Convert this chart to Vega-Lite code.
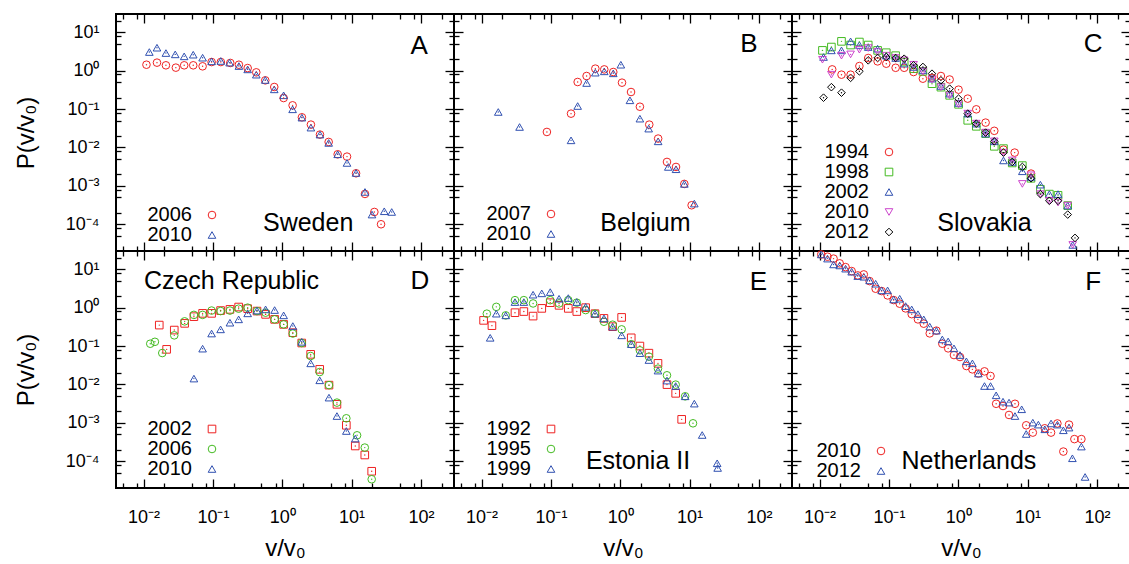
{
"$schema": "https://vega.github.io/schema/vega-lite/v6.json",
"background": "white",
"padding": {"left": 13, "top": 12, "right": 0, "bottom": 0},
"config": {"font": "Liberation Sans", "view": {"stroke": "black", "strokeWidth": 2}, "axis": {"labelColor": "black", "titleColor": "black", "tickColor": "black"}, "legend": {"labelColor": "black"}, "text": {"color": "black"}},
"datasets": {
"A": [
{"x":0.0110,"y":1.43,"s":"2006"},{"x":0.0156,"y":1.62,"s":"2006"},{"x":0.0210,"y":1.38,"s":"2006"},{"x":0.0292,"y":1.20,"s":"2006"},{"x":0.0385,"y":1.38,"s":"2006"},{"x":0.0520,"y":1.38,"s":"2006"},{"x":0.0710,"y":1.30,"s":"2006"},{"x":0.0957,"y":1.68,"s":"2006"},{"x":0.130,"y":1.68,"s":"2006"},{"x":0.178,"y":1.59,"s":"2006"},{"x":0.237,"y":1.43,"s":"2006"},{"x":0.317,"y":1.17,"s":"2006"},{"x":0.422,"y":0.905,"s":"2006"},{"x":0.569,"y":0.560,"s":"2006"},{"x":0.767,"y":0.376,"s":"2006"},{"x":1.047,"y":0.194,"s":"2006"},{"x":1.41,"y":0.125,"s":"2006"},{"x":1.92,"y":0.0609,"s":"2006"},{"x":2.59,"y":0.0393,"s":"2006"},{"x":3.50,"y":0.0216,"s":"2006"},{"x":4.67,"y":0.0139,"s":"2006"},{"x":6.30,"y":0.00662,"s":"2006"},{"x":8.59,"y":0.00576,"s":"2006"},{"x":11.6,"y":0.00212,"s":"2006"},{"x":15.6,"y":0.000614,"s":"2006"},{"x":21.3,"y":0.000208,"s":"2006"},{"x":26.6,"y":0.0000995,"s":"2006"},
{"x":0.0121,"y":3.06,"s":"2010"},{"x":0.0156,"y":3.97,"s":"2010"},{"x":0.0210,"y":2.88,"s":"2010"},{"x":0.0286,"y":2.66,"s":"2010"},{"x":0.0385,"y":2.36,"s":"2010"},{"x":0.0520,"y":2.61,"s":"2010"},{"x":0.0710,"y":2.18,"s":"2010"},{"x":0.0957,"y":1.75,"s":"2010"},{"x":0.130,"y":1.79,"s":"2010"},{"x":0.174,"y":1.62,"s":"2010"},{"x":0.237,"y":1.32,"s":"2010"},{"x":0.317,"y":1.08,"s":"2010"},{"x":0.422,"y":0.787,"s":"2010"},{"x":0.569,"y":0.572,"s":"2010"},{"x":0.767,"y":0.326,"s":"2010"},{"x":1.047,"y":0.228,"s":"2010"},{"x":1.41,"y":0.0984,"s":"2010"},{"x":1.92,"y":0.0597,"s":"2010"},{"x":2.59,"y":0.0328,"s":"2010"},{"x":3.50,"y":0.0216,"s":"2010"},{"x":4.67,"y":0.0131,"s":"2010"},{"x":6.30,"y":0.00662,"s":"2010"},{"x":8.59,"y":0.00394,"s":"2010"},{"x":11.6,"y":0.00216,"s":"2010"},{"x":15.6,"y":0.000692,"s":"2010"},{"x":19.7,"y":0.000178,"s":"2010"},{"x":29.6,"y":0.000217,"s":"2010"},{"x":37.9,"y":0.000208,"s":"2010"}
],
"B": [
{"x":0.0875,"y":0.0253,"s":"2007"},{"x":0.195,"y":0.0759,"s":"2007"},{"x":0.243,"y":0.507,"s":"2007"},{"x":0.327,"y":0.726,"s":"2007"},{"x":0.437,"y":1.13,"s":"2007"},{"x":0.588,"y":1.08,"s":"2007"},{"x":0.793,"y":0.923,"s":"2007"},{"x":1.06,"y":0.487,"s":"2007"},{"x":1.43,"y":0.278,"s":"2007"},{"x":1.92,"y":0.115,"s":"2007"},{"x":2.62,"y":0.0393,"s":"2007"},{"x":3.52,"y":0.0170,"s":"2007"},{"x":4.72,"y":0.00419,"s":"2007"},{"x":6.37,"y":0.00310,"s":"2007"},{"x":8.40,"y":0.00112,"s":"2007"},{"x":10.7,"y":0.000311,"s":"2007"},
{"x":0.0174,"y":0.0839,"s":"2010"},{"x":0.0353,"y":0.0341,"s":"2010"},{"x":0.195,"y":0.0153,"s":"2010"},{"x":0.243,"y":0.120,"s":"2010"},{"x":0.327,"y":0.477,"s":"2010"},{"x":0.437,"y":0.887,"s":"2010"},{"x":0.588,"y":0.961,"s":"2010"},{"x":0.793,"y":0.853,"s":"2010"},{"x":1.02,"y":1.43,"s":"2010"},{"x":1.38,"y":0.169,"s":"2010"},{"x":1.92,"y":0.0562,"s":"2010"},{"x":2.57,"y":0.0309,"s":"2010"},{"x":3.52,"y":0.0144,"s":"2010"},{"x":4.93,"y":0.00310,"s":"2010"},{"x":6.37,"y":0.00270,"s":"2010"},{"x":8.40,"y":0.00112,"s":"2010"},{"x":11.7,"y":0.000344,"s":"2010"}
],
"C": [
{"x":0.0152,"y":1.08,"s":"1994"},{"x":0.0207,"y":0.787,"s":"1994"},{"x":0.0280,"y":0.787,"s":"1994"},{"x":0.0375,"y":1.32,"s":"1994"},{"x":0.0503,"y":2.14,"s":"1994"},{"x":0.0687,"y":1.75,"s":"1994"},{"x":0.0916,"y":1.52,"s":"1994"},{"x":0.125,"y":1.19,"s":"1994"},{"x":0.166,"y":1.19,"s":"1994"},{"x":0.227,"y":0.923,"s":"1994"},{"x":0.309,"y":0.619,"s":"1994"},{"x":0.418,"y":0.650,"s":"1994"},{"x":0.562,"y":0.726,"s":"1994"},{"x":0.751,"y":0.589,"s":"1994"},{"x":1.01,"y":0.320,"s":"1994"},{"x":1.37,"y":0.187,"s":"1994"},{"x":1.82,"y":0.0984,"s":"1994"},{"x":2.48,"y":0.0443,"s":"1994"},{"x":3.31,"y":0.0271,"s":"1994"},{"x":4.49,"y":0.00877,"s":"1994"},{"x":6.51,"y":0.00733,"s":"1994"},{"x":11.2,"y":0.00208,"s":"1994"},
{"x":0.0110,"y":3.38,"s":"1998"},{"x":0.0148,"y":4.13,"s":"1998"},{"x":0.0207,"y":5.81,"s":"1998"},{"x":0.0280,"y":4.66,"s":"1998"},{"x":0.0375,"y":5.58,"s":"1998"},{"x":0.0503,"y":4.66,"s":"1998"},{"x":0.0687,"y":3.38,"s":"1998"},{"x":0.0916,"y":2.94,"s":"1998"},{"x":0.125,"y":2.46,"s":"1998"},{"x":0.166,"y":1.68,"s":"1998"},{"x":0.227,"y":1.13,"s":"1998"},{"x":0.309,"y":0.961,"s":"1998"},{"x":0.418,"y":0.458,"s":"1998"},{"x":0.562,"y":0.372,"s":"1998"},{"x":0.751,"y":0.228,"s":"1998"},{"x":1.01,"y":0.133,"s":"1998"},{"x":1.37,"y":0.0509,"s":"1998"},{"x":1.82,"y":0.0355,"s":"1998"},{"x":2.48,"y":0.0229,"s":"1998"},{"x":3.31,"y":0.0107,"s":"1998"},{"x":4.49,"y":0.00931,"s":"1998"},{"x":6.01,"y":0.00394,"s":"1998"},{"x":8.40,"y":0.00336,"s":"1998"},{"x":11.2,"y":0.00157,"s":"1998"},{"x":15.3,"y":0.000813,"s":"1998"},{"x":20.6,"y":0.000608,"s":"1998"},{"x":27.5,"y":0.000566,"s":"1998"},{"x":37.9,"y":0.000305,"s":"1998"},
{"x":0.0114,"y":2.27,"s":"2002"},{"x":0.0148,"y":3.38,"s":"2002"},{"x":0.0207,"y":3.38,"s":"2002"},{"x":0.0280,"y":5.81,"s":"2002"},{"x":0.0375,"y":4.66,"s":"2002"},{"x":0.0503,"y":4.13,"s":"2002"},{"x":0.0687,"y":3.74,"s":"2002"},{"x":0.0916,"y":2.46,"s":"2002"},{"x":0.125,"y":2.14,"s":"2002"},{"x":0.166,"y":1.52,"s":"2002"},{"x":0.227,"y":1.25,"s":"2002"},{"x":0.309,"y":1.02,"s":"2002"},{"x":0.418,"y":0.619,"s":"2002"},{"x":0.562,"y":0.399,"s":"2002"},{"x":0.751,"y":0.252,"s":"2002"},{"x":1.01,"y":0.144,"s":"2002"},{"x":1.37,"y":0.0759,"s":"2002"},{"x":1.82,"y":0.0417,"s":"2002"},{"x":2.48,"y":0.0229,"s":"2002"},{"x":3.31,"y":0.0144,"s":"2002"},{"x":4.49,"y":0.00458,"s":"2002"},{"x":6.01,"y":0.00419,"s":"2002"},{"x":8.40,"y":0.00239,"s":"2002"},{"x":11.2,"y":0.00170,"s":"2002"},{"x":15.3,"y":0.00107,"s":"2002"},{"x":20.6,"y":0.000608,"s":"2002"},{"x":27.5,"y":0.000608,"s":"2002"},{"x":37.9,"y":0.000305,"s":"2002"},{"x":44.8,"y":0.0000288,"s":"2002"},
{"x":0.0110,"y":1.93,"s":"2010"},{"x":0.0148,"y":0.787,"s":"2010"},{"x":0.0207,"y":2.46,"s":"2010"},{"x":0.0280,"y":2.66,"s":"2010"},{"x":0.0375,"y":3.52,"s":"2010"},{"x":0.0503,"y":3.89,"s":"2010"},{"x":0.0687,"y":3.06,"s":"2010"},{"x":0.0916,"y":2.46,"s":"2010"},{"x":0.125,"y":2.14,"s":"2010"},{"x":0.166,"y":1.86,"s":"2010"},{"x":0.227,"y":1.43,"s":"2010"},{"x":0.309,"y":0.961,"s":"2010"},{"x":0.418,"y":0.589,"s":"2010"},{"x":0.562,"y":0.372,"s":"2010"},{"x":0.751,"y":0.228,"s":"2010"},{"x":1.01,"y":0.133,"s":"2010"},{"x":1.37,"y":0.0759,"s":"2010"},{"x":1.82,"y":0.0417,"s":"2010"},{"x":2.48,"y":0.0243,"s":"2010"},{"x":3.31,"y":0.0144,"s":"2010"},{"x":4.49,"y":0.00733,"s":"2010"},{"x":6.01,"y":0.00458,"s":"2010"},{"x":8.40,"y":0.00112,"s":"2010"},{"x":11.2,"y":0.00188,"s":"2010"},{"x":15.3,"y":0.000608,"s":"2010"},{"x":20.6,"y":0.000407,"s":"2010"},{"x":27.5,"y":0.000365,"s":"2010"},{"x":37.9,"y":0.000305,"s":"2010"},{"x":44.8,"y":0.0000288,"s":"2010"},
{"x":0.0114,"y":0.198,"s":"2012"},{"x":0.0148,"y":0.372,"s":"2012"},{"x":0.0207,"y":0.267,"s":"2012"},{"x":0.0280,"y":0.650,"s":"2012"},{"x":0.0375,"y":0.961,"s":"2012"},{"x":0.0503,"y":1.86,"s":"2012"},{"x":0.0687,"y":2.14,"s":"2012"},{"x":0.0916,"y":2.27,"s":"2012"},{"x":0.125,"y":2.14,"s":"2012"},{"x":0.166,"y":2.05,"s":"2012"},{"x":0.227,"y":1.38,"s":"2012"},{"x":0.309,"y":1.25,"s":"2012"},{"x":0.418,"y":0.835,"s":"2012"},{"x":0.562,"y":0.560,"s":"2012"},{"x":0.751,"y":0.340,"s":"2012"},{"x":1.01,"y":0.187,"s":"2012"},{"x":1.37,"y":0.0759,"s":"2012"},{"x":1.82,"y":0.0417,"s":"2012"},{"x":2.48,"y":0.0243,"s":"2012"},{"x":3.31,"y":0.0144,"s":"2012"},{"x":4.49,"y":0.00733,"s":"2012"},{"x":6.01,"y":0.00419,"s":"2012"},{"x":8.40,"y":0.00310,"s":"2012"},{"x":11.2,"y":0.00157,"s":"2012"},{"x":15.3,"y":0.000608,"s":"2012"},{"x":20.6,"y":0.000407,"s":"2012"},{"x":27.5,"y":0.000407,"s":"2012"},{"x":37.9,"y":0.000178,"s":"2012"},{"x":48.3,"y":0.0000439,"s":"2012"}
],
"D": [
{"x":0.01683,"y":0.352,"s":"2002"},{"x":0.0215,"y":0.0820,"s":"2002"},{"x":0.0277,"y":0.261,"s":"2002"},{"x":0.0391,"y":0.390,"s":"2002"},{"x":0.0532,"y":0.583,"s":"2002"},{"x":0.0710,"y":0.711,"s":"2002"},{"x":0.0957,"y":0.711,"s":"2002"},{"x":0.129,"y":0.841,"s":"2002"},{"x":0.176,"y":0.903,"s":"2002"},{"x":0.235,"y":1.04,"s":"2002"},{"x":0.317,"y":0.942,"s":"2002"},{"x":0.432,"y":0.816,"s":"2002"},{"x":0.575,"y":0.669,"s":"2002"},{"x":0.776,"y":0.496,"s":"2002"},{"x":1.047,"y":0.367,"s":"2002"},{"x":1.42,"y":0.223,"s":"2002"},{"x":1.91,"y":0.120,"s":"2002"},{"x":2.57,"y":0.0608,"s":"2002"},{"x":3.47,"y":0.0247,"s":"2002"},{"x":4.72,"y":0.00959,"s":"2002"},{"x":6.15,"y":0.00303,"s":"2002"},{"x":8.40,"y":0.000861,"s":"2002"},{"x":11.3,"y":0.000249,"s":"2002"},{"x":15.5,"y":0.000145,"s":"2002"},{"x":19.5,"y":0.0000546,"s":"2002"},
{"x":0.01248,"y":0.115,"s":"2006"},{"x":0.01456,"y":0.129,"s":"2006"},{"x":0.0186,"y":0.0658,"s":"2006"},{"x":0.0277,"y":0.190,"s":"2006"},{"x":0.0391,"y":0.440,"s":"2006"},{"x":0.0532,"y":0.649,"s":"2006"},{"x":0.0710,"y":0.649,"s":"2006"},{"x":0.0957,"y":0.841,"s":"2006"},{"x":0.129,"y":0.816,"s":"2006"},{"x":0.176,"y":0.841,"s":"2006"},{"x":0.235,"y":0.942,"s":"2006"},{"x":0.317,"y":1.00,"s":"2006"},{"x":0.432,"y":0.816,"s":"2006"},{"x":0.575,"y":0.741,"s":"2006"},{"x":0.776,"y":0.496,"s":"2006"},{"x":1.047,"y":0.367,"s":"2006"},{"x":1.42,"y":0.212,"s":"2006"},{"x":1.91,"y":0.120,"s":"2006"},{"x":2.57,"y":0.0550,"s":"2006"},{"x":3.47,"y":0.0210,"s":"2006"},{"x":4.72,"y":0.00959,"s":"2006"},{"x":6.15,"y":0.00336,"s":"2006"},{"x":8.40,"y":0.00131,"s":"2006"},{"x":12.0,"y":0.000472,"s":"2006"},{"x":15.5,"y":0.000226,"s":"2006"},{"x":19.5,"y":0.0000338,"s":"2006"},
{"x":0.0532,"y":0.0142,"s":"2010"},{"x":0.0710,"y":0.0855,"s":"2010"},{"x":0.0957,"y":0.212,"s":"2010"},{"x":0.129,"y":0.272,"s":"2010"},{"x":0.176,"y":0.406,"s":"2010"},{"x":0.235,"y":0.496,"s":"2010"},{"x":0.317,"y":0.711,"s":"2010"},{"x":0.432,"y":0.841,"s":"2010"},{"x":0.575,"y":0.903,"s":"2010"},{"x":0.776,"y":0.867,"s":"2010"},{"x":1.047,"y":0.630,"s":"2010"},{"x":1.42,"y":0.332,"s":"2010"},{"x":1.91,"y":0.129,"s":"2010"},{"x":2.57,"y":0.0354,"s":"2010"},{"x":3.47,"y":0.0128,"s":"2010"},{"x":4.72,"y":0.00453,"s":"2010"},{"x":6.15,"y":0.00150,"s":"2010"},{"x":8.40,"y":0.000611,"s":"2010"},{"x":11.3,"y":0.000388,"s":"2010"}
],
"E": [
{"x":0.01069,"y":0.467,"s":"1992"},{"x":0.0141,"y":0.340,"s":"1992"},{"x":0.0303,"y":0.741,"s":"1992"},{"x":0.0407,"y":0.793,"s":"1992"},{"x":0.0553,"y":0.604,"s":"1992"},{"x":0.0738,"y":0.959,"s":"1992"},{"x":0.0977,"y":1.35,"s":"1992"},{"x":0.131,"y":1.15,"s":"1992"},{"x":0.178,"y":0.959,"s":"1992"},{"x":0.236,"y":0.793,"s":"1992"},{"x":0.317,"y":1.0,"s":"1992"},{"x":0.432,"y":0.698,"s":"1992"},{"x":0.582,"y":0.526,"s":"1992"},{"x":0.776,"y":0.320,"s":"1992"},{"x":1.047,"y":0.558,"s":"1992"},{"x":1.44,"y":0.164,"s":"1992"},{"x":1.92,"y":0.100,"s":"1992"},{"x":2.59,"y":0.0653,"s":"1992"},{"x":3.50,"y":0.0354,"s":"1992"},{"x":4.72,"y":0.00989,"s":"1992"},{"x":6.30,"y":0.00586,"s":"1992"},{"x":7.69,"y":0.00123,"s":"1992"},
{"x":0.0119,"y":0.698,"s":"1995"},{"x":0.0163,"y":1.05,"s":"1995"},{"x":0.0223,"y":0.630,"s":"1995"},{"x":0.0303,"y":1.57,"s":"1995"},{"x":0.0407,"y":1.57,"s":"1995"},{"x":0.0553,"y":1.29,"s":"1995"},{"x":0.0977,"y":1.57,"s":"1995"},{"x":0.131,"y":1.29,"s":"1995"},{"x":0.178,"y":1.57,"s":"1995"},{"x":0.236,"y":1.35,"s":"1995"},{"x":0.317,"y":0.867,"s":"1995"},{"x":0.432,"y":0.698,"s":"1995"},{"x":0.582,"y":0.431,"s":"1995"},{"x":0.776,"y":0.360,"s":"1995"},{"x":1.047,"y":0.272,"s":"1995"},{"x":1.44,"y":0.112,"s":"1995"},{"x":1.92,"y":0.0773,"s":"1995"},{"x":2.59,"y":0.0530,"s":"1995"},{"x":3.50,"y":0.0258,"s":"1995"},{"x":4.72,"y":0.0173,"s":"1995"},{"x":6.30,"y":0.00989,"s":"1995"},{"x":8.63,"y":0.00490,"s":"1995"},{"x":11.2,"y":0.000970,"s":"1995"},
{"x":0.0133,"y":0.164,"s":"1999"},{"x":0.0163,"y":0.698,"s":"1999"},{"x":0.0223,"y":0.630,"s":"1999"},{"x":0.0303,"y":1.40,"s":"1999"},{"x":0.0407,"y":1.40,"s":"1999"},{"x":0.0553,"y":2.18,"s":"1999"},{"x":0.0738,"y":2.36,"s":"1999"},{"x":0.0977,"y":2.55,"s":"1999"},{"x":0.131,"y":1.71,"s":"1999"},{"x":0.178,"y":1.78,"s":"1999"},{"x":0.236,"y":1.40,"s":"1999"},{"x":0.317,"y":1.05,"s":"1999"},{"x":0.432,"y":0.698,"s":"1999"},{"x":0.582,"y":0.526,"s":"1999"},{"x":0.776,"y":0.320,"s":"1999"},{"x":1.047,"y":0.190,"s":"1999"},{"x":1.44,"y":0.112,"s":"1999"},{"x":1.92,"y":0.0653,"s":"1999"},{"x":2.59,"y":0.0432,"s":"1999"},{"x":3.50,"y":0.0229,"s":"1999"},{"x":4.72,"y":0.0126,"s":"1999"},{"x":6.30,"y":0.00908,"s":"1999"},{"x":8.63,"y":0.00490,"s":"1999"},{"x":11.7,"y":0.00316,"s":"1999"},{"x":15.2,"y":0.000481,"s":"1999"},{"x":25.0,"y":0.0000881,"s":"1999"},{"x":25.4,"y":0.0000665,"s":"1999"}
],
"F": [
{"x":0.01057,"y":24.4,"s":"2010"},{"x":0.0130,"y":21.3,"s":"2010"},{"x":0.0159,"y":19.0,"s":"2010"},{"x":0.0195,"y":14.3,"s":"2010"},{"x":0.0237,"y":11.4,"s":"2010"},{"x":0.0290,"y":8.99,"s":"2010"},{"x":0.0355,"y":6.93,"s":"2010"},{"x":0.0434,"y":7.36,"s":"2010"},{"x":0.0526,"y":4.93,"s":"2010"},{"x":0.0643,"y":3.12,"s":"2010"},{"x":0.0785,"y":2.71,"s":"2010"},{"x":0.0957,"y":2.09,"s":"2010"},{"x":0.117,"y":1.58,"s":"2010"},{"x":0.143,"y":1.27,"s":"2010"},{"x":0.174,"y":0.959,"s":"2010"},{"x":0.213,"y":0.678,"s":"2010"},{"x":0.262,"y":0.496,"s":"2010"},{"x":0.318,"y":0.383,"s":"2010"},{"x":0.388,"y":0.214,"s":"2010"},{"x":0.484,"y":0.252,"s":"2010"},{"x":0.589,"y":0.115,"s":"2010"},{"x":0.715,"y":0.0871,"s":"2010"},{"x":0.867,"y":0.0583,"s":"2010"},{"x":1.06,"y":0.0518,"s":"2010"},{"x":1.31,"y":0.0302,"s":"2010"},{"x":1.60,"y":0.0247,"s":"2010"},{"x":1.95,"y":0.0192,"s":"2010"},{"x":2.39,"y":0.0219,"s":"2010"},{"x":2.92,"y":0.0166,"s":"2010"},{"x":3.52,"y":0.00313,"s":"2010"},{"x":4.42,"y":0.00274,"s":"2010"},{"x":5.40,"y":0.00160,"s":"2010"},{"x":6.58,"y":0.00313,"s":"2010"},{"x":9.55,"y":0.000861,"s":"2010"},{"x":11.9,"y":0.000556,"s":"2010"},{"x":17.7,"y":0.000719,"s":"2010"},{"x":21.8,"y":0.000556,"s":"2010"},{"x":26.9,"y":0.000961,"s":"2010"},{"x":32.8,"y":0.000178,"s":"2010"},{"x":39.6,"y":0.000897,"s":"2010"},{"x":47.3,"y":0.000376,"s":"2010"},{"x":59.7,"y":0.000376,"s":"2010"},
{"x":0.01057,"y":24.4,"s":"2012"},{"x":0.0130,"y":19.0,"s":"2012"},{"x":0.0159,"y":13.4,"s":"2012"},{"x":0.0195,"y":12.6,"s":"2012"},{"x":0.0237,"y":10.4,"s":"2012"},{"x":0.0290,"y":8.65,"s":"2012"},{"x":0.0355,"y":6.66,"s":"2012"},{"x":0.0434,"y":6.40,"s":"2012"},{"x":0.0526,"y":5.14,"s":"2012"},{"x":0.0643,"y":4.21,"s":"2012"},{"x":0.0785,"y":2.82,"s":"2012"},{"x":0.0957,"y":2.82,"s":"2012"},{"x":0.117,"y":1.64,"s":"2012"},{"x":0.143,"y":1.71,"s":"2012"},{"x":0.174,"y":1.10,"s":"2012"},{"x":0.213,"y":0.903,"s":"2012"},{"x":0.262,"y":0.678,"s":"2012"},{"x":0.318,"y":0.496,"s":"2012"},{"x":0.388,"y":0.320,"s":"2012"},{"x":0.484,"y":0.252,"s":"2012"},{"x":0.589,"y":0.149,"s":"2012"},{"x":0.715,"y":0.132,"s":"2012"},{"x":0.867,"y":0.0871,"s":"2012"},{"x":1.06,"y":0.0583,"s":"2012"},{"x":1.31,"y":0.0400,"s":"2012"},{"x":1.60,"y":0.0354,"s":"2012"},{"x":1.95,"y":0.0192,"s":"2012"},{"x":2.39,"y":0.00908,"s":"2012"},{"x":2.92,"y":0.00908,"s":"2012"},{"x":3.52,"y":0.00520,"s":"2012"},{"x":4.42,"y":0.00356,"s":"2012"},{"x":5.40,"y":0.00336,"s":"2012"},{"x":6.58,"y":0.00150,"s":"2012"},{"x":8.22,"y":0.00225,"s":"2012"},{"x":9.55,"y":0.000511,"s":"2012"},{"x":11.9,"y":0.00101,"s":"2012"},{"x":14.3,"y":0.000897,"s":"2012"},{"x":17.7,"y":0.000677,"s":"2012"},{"x":21.8,"y":0.000961,"s":"2012"},{"x":26.9,"y":0.000897,"s":"2012"},{"x":32.8,"y":0.000638,"s":"2012"},{"x":39.6,"y":0.000750,"s":"2012"},{"x":44.3,"y":0.000119,"s":"2012"},{"x":59.7,"y":0.000240,"s":"2012"},{"x":67.5,"y":0.0000388,"s":"2012"}
]
},
"columns": 3,
"spacing": 0,
"bounds": "flush",
"resolve": {"scale": {"color": "independent", "shape": "independent", "fill": "independent"}},
"concat": [
{"width": 338, "height": 237, "data": {"name": "A"},
 "layer": [
  {"mark": {"type": "point", "size": 58, "strokeWidth": 1, "opacity": 1},
   "encoding": {
    "x": {"field": "x", "type": "quantitative", "scale": {"type": "log", "domain": [0.004, 300], "nice": false}, "axis": {"orient": "bottom", "values": [0.005,0.008,0.01,0.02,0.05,0.08,0.1,0.2,0.5,0.8,1,2,5,8,10,20,50,80,100,200], "labels": false, "domain": false, "grid": false, "title": null, "tickColor": "black", "tickWidth": 1.3, "tickSize": {"condition": {"test": "abs(log(datum.value)/LN10 - round(log(datum.value)/LN10)) < 0.01", "value": -9}, "value": -5}}},
    "y": {"field": "y", "type": "quantitative", "scale": {"type": "log", "domain": [0.00002, 30], "nice": false}, "axis": {"orient": "left", "values": [0.00005,0.00008,0.0001,0.0002,0.0005,0.0008,0.001,0.002,0.005,0.008,0.01,0.02,0.05,0.08,0.1,0.2,0.5,0.8,1,2,5,8,10,20], "labels": false, "domain": false, "grid": false, "title": null, "tickColor": "black", "tickWidth": 1.3, "tickSize": {"condition": {"test": "abs(log(datum.value)/LN10 - round(log(datum.value)/LN10)) < 0.01", "value": -9}, "value": -5}}},
    "color": {"field": "s", "type": "nominal", "scale": {"domain": ["2006", "2010"], "range": ["#ee2222", "#3050b0"]}, "legend": {"orient": "none", "legendX": 86, "legendY": 191, "title": null, "padding": 0, "rowPadding": 0, "labelFontSize": 20, "labelAlign": "right", "labelOffset": -30, "labelBaseline": "middle", "symbolSize": 58, "symbolStrokeWidth": 1, "symbolFillColor": "transparent", "labelLimit": 0}},
    "shape": {"field": "s", "type": "nominal", "scale": {"domain": ["2006", "2010"], "range": ["circle", "triangle-up"]}, "legend": {"orient": "none", "legendX": 86, "legendY": 191, "title": null, "padding": 0, "rowPadding": 0, "labelFontSize": 20, "labelAlign": "right", "labelOffset": -30, "labelBaseline": "middle", "symbolSize": 58, "symbolStrokeWidth": 1, "symbolFillColor": "transparent", "labelLimit": 0}}
   }},
  {"mark": {"type": "point", "filled": true, "size": 2, "opacity": 1},
   "encoding": {
    "x": {"field": "x", "type": "quantitative", "scale": {"type": "log", "domain": [0.004, 300], "nice": false}, "axis": {"orient": "top", "values": [0.005,0.008,0.01,0.02,0.05,0.08,0.1,0.2,0.5,0.8,1,2,5,8,10,20,50,80,100,200], "labels": false, "domain": false, "grid": false, "title": null, "tickColor": "black", "tickWidth": 1.3, "tickSize": {"condition": {"test": "abs(log(datum.value)/LN10 - round(log(datum.value)/LN10)) < 0.01", "value": -9}, "value": -5}}},
    "y": {"field": "y", "type": "quantitative", "scale": {"type": "log", "domain": [0.00002, 30], "nice": false}, "axis": {"orient": "right", "values": [0.00005,0.00008,0.0001,0.0002,0.0005,0.0008,0.001,0.002,0.005,0.008,0.01,0.02,0.05,0.08,0.1,0.2,0.5,0.8,1,2,5,8,10,20], "labels": false, "domain": false, "grid": false, "title": null, "tickColor": "black", "tickWidth": 1.3, "tickSize": {"condition": {"test": "abs(log(datum.value)/LN10 - round(log(datum.value)/LN10)) < 0.01", "value": -9}, "value": -5}}},
    "fill": {"field": "s", "type": "nominal", "scale": {"domain": ["2010", "2006"], "range": ["#3050b0", "#ee2222"]}, "legend": null}
   }},
  {"data": {"values": [{"t": "Sweden"}]},
   "mark": {"type": "text", "align": "left", "baseline": "middle", "fontSize": 25},
   "encoding": {
    "x": {"datum": 0.527, "type": "quantitative", "scale": {"type": "log", "domain": [0.004, 300], "nice": false}, "axis": null},
    "y": {"datum": 0.00011, "type": "quantitative", "scale": {"type": "log", "domain": [0.00002, 30], "nice": false}, "axis": {"orient": "left", "values": [0.0001,0.001,0.01,0.1,1,10], "ticks": false, "domain": false, "grid": false, "labelExpr": "'10' + ['⁻⁴','⁻³','⁻²','⁻¹','⁰','¹','²'][round(log(datum.value)/LN10)+4]", "labelFontSize": 18, "labelColor": "black", "labelPadding": 17, "labelFlush": false, "labelOverlap": false, "labelBaseline": "middle", "title": "P(v/v₀)", "titleFontSize": 24, "titleFontWeight": "normal", "titleColor": "black", "titleX": -90, "titleY": 118.5, "titleAngle": 270, "titleBaseline": "middle", "titleAlign": "center"}},
    "text": {"field": "t"}
   }},
  {"data": {"values": [{"t": "A"}]},
   "mark": {"type": "text", "align": "center", "baseline": "middle", "fontSize": 26},
   "encoding": {
    "x": {"datum": 94, "type": "quantitative", "scale": {"type": "log", "domain": [0.004, 300], "nice": false}, "axis": null},
    "y": {"datum": 4.5, "type": "quantitative", "scale": {"type": "log", "domain": [0.00002, 30], "nice": false}, "axis": null},
    "text": {"field": "t"}
   }}
 ],
 "resolve": {"axis": {"x": "independent", "y": "independent"}}
},
{"width": 338, "height": 237, "data": {"name": "B"},
 "layer": [
  {"mark": {"type": "point", "size": 58, "strokeWidth": 1, "opacity": 1},
   "encoding": {
    "x": {"field": "x", "type": "quantitative", "scale": {"type": "log", "domain": [0.004, 300], "nice": false}, "axis": {"orient": "bottom", "values": [0.005,0.008,0.01,0.02,0.05,0.08,0.1,0.2,0.5,0.8,1,2,5,8,10,20,50,80,100,200], "labels": false, "domain": false, "grid": false, "title": null, "tickColor": "black", "tickWidth": 1.3, "tickSize": {"condition": {"test": "abs(log(datum.value)/LN10 - round(log(datum.value)/LN10)) < 0.01", "value": -9}, "value": -5}}},
    "y": {"field": "y", "type": "quantitative", "scale": {"type": "log", "domain": [0.00002, 30], "nice": false}, "axis": {"orient": "left", "values": [0.00005,0.00008,0.0001,0.0002,0.0005,0.0008,0.001,0.002,0.005,0.008,0.01,0.02,0.05,0.08,0.1,0.2,0.5,0.8,1,2,5,8,10,20], "labels": false, "domain": false, "grid": false, "title": null, "tickColor": "black", "tickWidth": 1.3, "tickSize": {"condition": {"test": "abs(log(datum.value)/LN10 - round(log(datum.value)/LN10)) < 0.01", "value": -9}, "value": -5}}},
    "color": {"field": "s", "type": "nominal", "scale": {"domain": ["2007", "2010"], "range": ["#ee2222", "#3050b0"]}, "legend": {"orient": "none", "legendX": 87, "legendY": 190, "title": null, "padding": 0, "rowPadding": 0, "labelFontSize": 20, "labelAlign": "right", "labelOffset": -30, "labelBaseline": "middle", "symbolSize": 58, "symbolStrokeWidth": 1, "symbolFillColor": "transparent", "labelLimit": 0}},
    "shape": {"field": "s", "type": "nominal", "scale": {"domain": ["2007", "2010"], "range": ["circle", "triangle-up"]}, "legend": {"orient": "none", "legendX": 87, "legendY": 190, "title": null, "padding": 0, "rowPadding": 0, "labelFontSize": 20, "labelAlign": "right", "labelOffset": -30, "labelBaseline": "middle", "symbolSize": 58, "symbolStrokeWidth": 1, "symbolFillColor": "transparent", "labelLimit": 0}}
   }},
  {"mark": {"type": "point", "filled": true, "size": 2, "opacity": 1},
   "encoding": {
    "x": {"field": "x", "type": "quantitative", "scale": {"type": "log", "domain": [0.004, 300], "nice": false}, "axis": {"orient": "top", "values": [0.005,0.008,0.01,0.02,0.05,0.08,0.1,0.2,0.5,0.8,1,2,5,8,10,20,50,80,100,200], "labels": false, "domain": false, "grid": false, "title": null, "tickColor": "black", "tickWidth": 1.3, "tickSize": {"condition": {"test": "abs(log(datum.value)/LN10 - round(log(datum.value)/LN10)) < 0.01", "value": -9}, "value": -5}}},
    "y": {"field": "y", "type": "quantitative", "scale": {"type": "log", "domain": [0.00002, 30], "nice": false}, "axis": {"orient": "right", "values": [0.00005,0.00008,0.0001,0.0002,0.0005,0.0008,0.001,0.002,0.005,0.008,0.01,0.02,0.05,0.08,0.1,0.2,0.5,0.8,1,2,5,8,10,20], "labels": false, "domain": false, "grid": false, "title": null, "tickColor": "black", "tickWidth": 1.3, "tickSize": {"condition": {"test": "abs(log(datum.value)/LN10 - round(log(datum.value)/LN10)) < 0.01", "value": -9}, "value": -5}}},
    "fill": {"field": "s", "type": "nominal", "scale": {"domain": ["2010", "2007"], "range": ["#3050b0", "#ee2222"]}, "legend": null}
   }},
  {"data": {"values": [{"t": "Belgium"}]},
   "mark": {"type": "text", "align": "left", "baseline": "middle", "fontSize": 25},
   "encoding": {
    "x": {"datum": 0.514, "type": "quantitative", "scale": {"type": "log", "domain": [0.004, 300], "nice": false}, "axis": null},
    "y": {"datum": 0.00011, "type": "quantitative", "scale": {"type": "log", "domain": [0.00002, 30], "nice": false}, "axis": null},
    "text": {"field": "t"}
   }},
  {"data": {"values": [{"t": "B"}]},
   "mark": {"type": "text", "align": "center", "baseline": "middle", "fontSize": 26},
   "encoding": {
    "x": {"datum": 72, "type": "quantitative", "scale": {"type": "log", "domain": [0.004, 300], "nice": false}, "axis": null},
    "y": {"datum": 5.0, "type": "quantitative", "scale": {"type": "log", "domain": [0.00002, 30], "nice": false}, "axis": null},
    "text": {"field": "t"}
   }}
 ],
 "resolve": {"axis": {"x": "independent", "y": "independent"}}
},
{"width": 338, "height": 237, "data": {"name": "C"},
 "layer": [
  {"mark": {"type": "point", "size": 58, "strokeWidth": 1, "opacity": 1},
   "encoding": {
    "x": {"field": "x", "type": "quantitative", "scale": {"type": "log", "domain": [0.004, 300], "nice": false}, "axis": {"orient": "bottom", "values": [0.005,0.008,0.01,0.02,0.05,0.08,0.1,0.2,0.5,0.8,1,2,5,8,10,20,50,80,100,200], "labels": false, "domain": false, "grid": false, "title": null, "tickColor": "black", "tickWidth": 1.3, "tickSize": {"condition": {"test": "abs(log(datum.value)/LN10 - round(log(datum.value)/LN10)) < 0.01", "value": -9}, "value": -5}}},
    "y": {"field": "y", "type": "quantitative", "scale": {"type": "log", "domain": [0.00002, 30], "nice": false}, "axis": {"orient": "left", "values": [0.00005,0.00008,0.0001,0.0002,0.0005,0.0008,0.001,0.002,0.005,0.008,0.01,0.02,0.05,0.08,0.1,0.2,0.5,0.8,1,2,5,8,10,20], "labels": false, "domain": false, "grid": false, "title": null, "tickColor": "black", "tickWidth": 1.3, "tickSize": {"condition": {"test": "abs(log(datum.value)/LN10 - round(log(datum.value)/LN10)) < 0.01", "value": -9}, "value": -5}}},
    "color": {"field": "s", "type": "nominal", "scale": {"domain": ["1994", "1998", "2002", "2010", "2012"], "range": ["#ee2222", "#44bb22", "#3050b0", "#cc44cc", "#000000"]}, "legend": {"orient": "none", "legendX": 87, "legendY": 128, "title": null, "padding": 0, "rowPadding": 0, "labelFontSize": 20, "labelAlign": "right", "labelOffset": -30, "labelBaseline": "middle", "symbolSize": 58, "symbolStrokeWidth": 1, "symbolFillColor": "transparent", "labelLimit": 0}},
    "shape": {"field": "s", "type": "nominal", "scale": {"domain": ["1994", "1998", "2002", "2010", "2012"], "range": ["circle", "square", "triangle-up", "triangle-down", "diamond"]}, "legend": {"orient": "none", "legendX": 87, "legendY": 128, "title": null, "padding": 0, "rowPadding": 0, "labelFontSize": 20, "labelAlign": "right", "labelOffset": -30, "labelBaseline": "middle", "symbolSize": 58, "symbolStrokeWidth": 1, "symbolFillColor": "transparent", "labelLimit": 0}}
   }},
  {"mark": {"type": "point", "filled": true, "size": 2, "opacity": 1},
   "encoding": {
    "x": {"field": "x", "type": "quantitative", "scale": {"type": "log", "domain": [0.004, 300], "nice": false}, "axis": {"orient": "top", "values": [0.005,0.008,0.01,0.02,0.05,0.08,0.1,0.2,0.5,0.8,1,2,5,8,10,20,50,80,100,200], "labels": false, "domain": false, "grid": false, "title": null, "tickColor": "black", "tickWidth": 1.3, "tickSize": {"condition": {"test": "abs(log(datum.value)/LN10 - round(log(datum.value)/LN10)) < 0.01", "value": -9}, "value": -5}}},
    "y": {"field": "y", "type": "quantitative", "scale": {"type": "log", "domain": [0.00002, 30], "nice": false}, "axis": {"orient": "right", "values": [0.00005,0.00008,0.0001,0.0002,0.0005,0.0008,0.001,0.002,0.005,0.008,0.01,0.02,0.05,0.08,0.1,0.2,0.5,0.8,1,2,5,8,10,20], "labels": false, "domain": false, "grid": false, "title": null, "tickColor": "black", "tickWidth": 1.3, "tickSize": {"condition": {"test": "abs(log(datum.value)/LN10 - round(log(datum.value)/LN10)) < 0.01", "value": -9}, "value": -5}}},
    "fill": {"field": "s", "type": "nominal", "scale": {"domain": ["2012", "2010", "2002", "1998", "1994"], "range": ["#000000", "#cc44cc", "#3050b0", "#44bb22", "#ee2222"]}, "legend": null}
   }},
  {"data": {"values": [{"t": "Slovakia"}]},
   "mark": {"type": "text", "align": "left", "baseline": "middle", "fontSize": 25},
   "encoding": {
    "x": {"datum": 0.498, "type": "quantitative", "scale": {"type": "log", "domain": [0.004, 300], "nice": false}, "axis": null},
    "y": {"datum": 0.00011, "type": "quantitative", "scale": {"type": "log", "domain": [0.00002, 30], "nice": false}, "axis": null},
    "text": {"field": "t"}
   }},
  {"data": {"values": [{"t": "C"}]},
   "mark": {"type": "text", "align": "center", "baseline": "middle", "fontSize": 26},
   "encoding": {
    "x": {"datum": 88, "type": "quantitative", "scale": {"type": "log", "domain": [0.004, 300], "nice": false}, "axis": null},
    "y": {"datum": 5.0, "type": "quantitative", "scale": {"type": "log", "domain": [0.00002, 30], "nice": false}, "axis": null},
    "text": {"field": "t"}
   }}
 ],
 "resolve": {"axis": {"x": "independent", "y": "independent"}}
},
{"width": 338, "height": 237, "data": {"name": "D"},
 "layer": [
  {"mark": {"type": "point", "size": 58, "strokeWidth": 1, "opacity": 1},
   "encoding": {
    "x": {"field": "x", "type": "quantitative", "scale": {"type": "log", "domain": [0.004, 300], "nice": false}, "axis": {"orient": "bottom", "values": [0.005,0.008,0.01,0.02,0.05,0.08,0.1,0.2,0.5,0.8,1,2,5,8,10,20,50,80,100,200], "labels": false, "domain": false, "grid": false, "title": null, "tickColor": "black", "tickWidth": 1.3, "tickSize": {"condition": {"test": "abs(log(datum.value)/LN10 - round(log(datum.value)/LN10)) < 0.01", "value": -9}, "value": -5}}},
    "y": {"field": "y", "type": "quantitative", "scale": {"type": "log", "domain": [0.00002, 30], "nice": false}, "axis": {"orient": "left", "values": [0.00005,0.00008,0.0001,0.0002,0.0005,0.0008,0.001,0.002,0.005,0.008,0.01,0.02,0.05,0.08,0.1,0.2,0.5,0.8,1,2,5,8,10,20], "labels": false, "domain": false, "grid": false, "title": null, "tickColor": "black", "tickWidth": 1.3, "tickSize": {"condition": {"test": "abs(log(datum.value)/LN10 - round(log(datum.value)/LN10)) < 0.01", "value": -9}, "value": -5}}},
    "color": {"field": "s", "type": "nominal", "scale": {"domain": ["2002", "2006", "2010"], "range": ["#ee2222", "#44bb22", "#3050b0"]}, "legend": {"orient": "none", "legendX": 86, "legendY": 168, "title": null, "padding": 0, "rowPadding": 0, "labelFontSize": 20, "labelAlign": "right", "labelOffset": -30, "labelBaseline": "middle", "symbolSize": 58, "symbolStrokeWidth": 1, "symbolFillColor": "transparent", "labelLimit": 0}},
    "shape": {"field": "s", "type": "nominal", "scale": {"domain": ["2002", "2006", "2010"], "range": ["square", "circle", "triangle-up"]}, "legend": {"orient": "none", "legendX": 86, "legendY": 168, "title": null, "padding": 0, "rowPadding": 0, "labelFontSize": 20, "labelAlign": "right", "labelOffset": -30, "labelBaseline": "middle", "symbolSize": 58, "symbolStrokeWidth": 1, "symbolFillColor": "transparent", "labelLimit": 0}}
   }},
  {"mark": {"type": "point", "filled": true, "size": 2, "opacity": 1},
   "encoding": {
    "x": {"field": "x", "type": "quantitative", "scale": {"type": "log", "domain": [0.004, 300], "nice": false}, "axis": {"orient": "top", "values": [0.005,0.008,0.01,0.02,0.05,0.08,0.1,0.2,0.5,0.8,1,2,5,8,10,20,50,80,100,200], "labels": false, "domain": false, "grid": false, "title": null, "tickColor": "black", "tickWidth": 1.3, "tickSize": {"condition": {"test": "abs(log(datum.value)/LN10 - round(log(datum.value)/LN10)) < 0.01", "value": -9}, "value": -5}}},
    "y": {"field": "y", "type": "quantitative", "scale": {"type": "log", "domain": [0.00002, 30], "nice": false}, "axis": {"orient": "right", "values": [0.00005,0.00008,0.0001,0.0002,0.0005,0.0008,0.001,0.002,0.005,0.008,0.01,0.02,0.05,0.08,0.1,0.2,0.5,0.8,1,2,5,8,10,20], "labels": false, "domain": false, "grid": false, "title": null, "tickColor": "black", "tickWidth": 1.3, "tickSize": {"condition": {"test": "abs(log(datum.value)/LN10 - round(log(datum.value)/LN10)) < 0.01", "value": -9}, "value": -5}}},
    "fill": {"field": "s", "type": "nominal", "scale": {"domain": ["2010", "2006", "2002"], "range": ["#3050b0", "#44bb22", "#ee2222"]}, "legend": null}
   }},
  {"data": {"values": [{"t": "Czech Republic"}]},
   "mark": {"type": "text", "align": "left", "baseline": "middle", "fontSize": 25},
   "encoding": {
    "x": {"datum": 0.0101, "type": "quantitative", "scale": {"type": "log", "domain": [0.004, 300], "nice": false}, "axis": {"orient": "bottom", "values": [0.01,0.1,1,10,100], "ticks": false, "domain": false, "grid": false, "labelExpr": "'10' + ['⁻⁴','⁻³','⁻²','⁻¹','⁰','¹','²'][round(log(datum.value)/LN10)+4]", "labelFontSize": 18, "labelColor": "black", "labelPadding": 20, "labelFlush": false, "labelOverlap": false, "labelBaseline": "top", "title": "v/v₀", "titleFontSize": 24, "titleFontWeight": "normal", "titleColor": "black", "titleX": 169, "titleY": 60, "titleBaseline": "middle", "titleAlign": "center"}},
    "y": {"datum": 4.93, "type": "quantitative", "scale": {"type": "log", "domain": [0.00002, 30], "nice": false}, "axis": {"orient": "left", "values": [0.0001,0.001,0.01,0.1,1,10], "ticks": false, "domain": false, "grid": false, "labelExpr": "'10' + ['⁻⁴','⁻³','⁻²','⁻¹','⁰','¹','²'][round(log(datum.value)/LN10)+4]", "labelFontSize": 18, "labelColor": "black", "labelPadding": 17, "labelFlush": false, "labelOverlap": false, "labelBaseline": "middle", "title": "P(v/v₀)", "titleFontSize": 24, "titleFontWeight": "normal", "titleColor": "black", "titleX": -90, "titleY": 118.5, "titleAngle": 270, "titleBaseline": "middle", "titleAlign": "center"}},
    "text": {"field": "t"}
   }},
  {"data": {"values": [{"t": "D"}]},
   "mark": {"type": "text", "align": "center", "baseline": "middle", "fontSize": 26},
   "encoding": {
    "x": {"datum": 97, "type": "quantitative", "scale": {"type": "log", "domain": [0.004, 300], "nice": false}, "axis": null},
    "y": {"datum": 4.93, "type": "quantitative", "scale": {"type": "log", "domain": [0.00002, 30], "nice": false}, "axis": null},
    "text": {"field": "t"}
   }}
 ],
 "resolve": {"axis": {"x": "independent", "y": "independent"}}
},
{"width": 338, "height": 237, "data": {"name": "E"},
 "layer": [
  {"mark": {"type": "point", "size": 58, "strokeWidth": 1, "opacity": 1},
   "encoding": {
    "x": {"field": "x", "type": "quantitative", "scale": {"type": "log", "domain": [0.004, 300], "nice": false}, "axis": {"orient": "bottom", "values": [0.005,0.008,0.01,0.02,0.05,0.08,0.1,0.2,0.5,0.8,1,2,5,8,10,20,50,80,100,200], "labels": false, "domain": false, "grid": false, "title": null, "tickColor": "black", "tickWidth": 1.3, "tickSize": {"condition": {"test": "abs(log(datum.value)/LN10 - round(log(datum.value)/LN10)) < 0.01", "value": -9}, "value": -5}}},
    "y": {"field": "y", "type": "quantitative", "scale": {"type": "log", "domain": [0.00002, 30], "nice": false}, "axis": {"orient": "left", "values": [0.00005,0.00008,0.0001,0.0002,0.0005,0.0008,0.001,0.002,0.005,0.008,0.01,0.02,0.05,0.08,0.1,0.2,0.5,0.8,1,2,5,8,10,20], "labels": false, "domain": false, "grid": false, "title": null, "tickColor": "black", "tickWidth": 1.3, "tickSize": {"condition": {"test": "abs(log(datum.value)/LN10 - round(log(datum.value)/LN10)) < 0.01", "value": -9}, "value": -5}}},
    "color": {"field": "s", "type": "nominal", "scale": {"domain": ["1992", "1995", "1999"], "range": ["#ee2222", "#44bb22", "#3050b0"]}, "legend": {"orient": "none", "legendX": 87, "legendY": 168, "title": null, "padding": 0, "rowPadding": 0, "labelFontSize": 20, "labelAlign": "right", "labelOffset": -30, "labelBaseline": "middle", "symbolSize": 58, "symbolStrokeWidth": 1, "symbolFillColor": "transparent", "labelLimit": 0}},
    "shape": {"field": "s", "type": "nominal", "scale": {"domain": ["1992", "1995", "1999"], "range": ["square", "circle", "triangle-up"]}, "legend": {"orient": "none", "legendX": 87, "legendY": 168, "title": null, "padding": 0, "rowPadding": 0, "labelFontSize": 20, "labelAlign": "right", "labelOffset": -30, "labelBaseline": "middle", "symbolSize": 58, "symbolStrokeWidth": 1, "symbolFillColor": "transparent", "labelLimit": 0}}
   }},
  {"mark": {"type": "point", "filled": true, "size": 2, "opacity": 1},
   "encoding": {
    "x": {"field": "x", "type": "quantitative", "scale": {"type": "log", "domain": [0.004, 300], "nice": false}, "axis": {"orient": "top", "values": [0.005,0.008,0.01,0.02,0.05,0.08,0.1,0.2,0.5,0.8,1,2,5,8,10,20,50,80,100,200], "labels": false, "domain": false, "grid": false, "title": null, "tickColor": "black", "tickWidth": 1.3, "tickSize": {"condition": {"test": "abs(log(datum.value)/LN10 - round(log(datum.value)/LN10)) < 0.01", "value": -9}, "value": -5}}},
    "y": {"field": "y", "type": "quantitative", "scale": {"type": "log", "domain": [0.00002, 30], "nice": false}, "axis": {"orient": "right", "values": [0.00005,0.00008,0.0001,0.0002,0.0005,0.0008,0.001,0.002,0.005,0.008,0.01,0.02,0.05,0.08,0.1,0.2,0.5,0.8,1,2,5,8,10,20], "labels": false, "domain": false, "grid": false, "title": null, "tickColor": "black", "tickWidth": 1.3, "tickSize": {"condition": {"test": "abs(log(datum.value)/LN10 - round(log(datum.value)/LN10)) < 0.01", "value": -9}, "value": -5}}},
    "fill": {"field": "s", "type": "nominal", "scale": {"domain": ["1999", "1995", "1992"], "range": ["#3050b0", "#44bb22", "#ee2222"]}, "legend": null}
   }},
  {"data": {"values": [{"t": "Estonia II"}]},
   "mark": {"type": "text", "align": "left", "baseline": "middle", "fontSize": 25},
   "encoding": {
    "x": {"datum": 0.32, "type": "quantitative", "scale": {"type": "log", "domain": [0.004, 300], "nice": false}, "axis": {"orient": "bottom", "values": [0.01,0.1,1,10,100], "ticks": false, "domain": false, "grid": false, "labelExpr": "'10' + ['⁻⁴','⁻³','⁻²','⁻¹','⁰','¹','²'][round(log(datum.value)/LN10)+4]", "labelFontSize": 18, "labelColor": "black", "labelPadding": 20, "labelFlush": false, "labelOverlap": false, "labelBaseline": "top", "title": "v/v₀", "titleFontSize": 24, "titleFontWeight": "normal", "titleColor": "black", "titleX": 169, "titleY": 60, "titleBaseline": "middle", "titleAlign": "center"}},
    "y": {"datum": 0.0001, "type": "quantitative", "scale": {"type": "log", "domain": [0.00002, 30], "nice": false}, "axis": null},
    "text": {"field": "t"}
   }},
  {"data": {"values": [{"t": "E"}]},
   "mark": {"type": "text", "align": "center", "baseline": "middle", "fontSize": 26},
   "encoding": {
    "x": {"datum": 98, "type": "quantitative", "scale": {"type": "log", "domain": [0.004, 300], "nice": false}, "axis": null},
    "y": {"datum": 4.6, "type": "quantitative", "scale": {"type": "log", "domain": [0.00002, 30], "nice": false}, "axis": null},
    "text": {"field": "t"}
   }}
 ],
 "resolve": {"axis": {"x": "independent", "y": "independent"}}
},
{"width": 338, "height": 237, "data": {"name": "F"},
 "layer": [
  {"mark": {"type": "point", "size": 58, "strokeWidth": 1, "opacity": 1},
   "encoding": {
    "x": {"field": "x", "type": "quantitative", "scale": {"type": "log", "domain": [0.004, 300], "nice": false}, "axis": {"orient": "bottom", "values": [0.005,0.008,0.01,0.02,0.05,0.08,0.1,0.2,0.5,0.8,1,2,5,8,10,20,50,80,100,200], "labels": false, "domain": false, "grid": false, "title": null, "tickColor": "black", "tickWidth": 1.3, "tickSize": {"condition": {"test": "abs(log(datum.value)/LN10 - round(log(datum.value)/LN10)) < 0.01", "value": -9}, "value": -5}}},
    "y": {"field": "y", "type": "quantitative", "scale": {"type": "log", "domain": [0.00002, 30], "nice": false}, "axis": {"orient": "left", "values": [0.00005,0.00008,0.0001,0.0002,0.0005,0.0008,0.001,0.002,0.005,0.008,0.01,0.02,0.05,0.08,0.1,0.2,0.5,0.8,1,2,5,8,10,20], "labels": false, "domain": false, "grid": false, "title": null, "tickColor": "black", "tickWidth": 1.3, "tickSize": {"condition": {"test": "abs(log(datum.value)/LN10 - round(log(datum.value)/LN10)) < 0.01", "value": -9}, "value": -5}}},
    "color": {"field": "s", "type": "nominal", "scale": {"domain": ["2010", "2012"], "range": ["#ee2222", "#3050b0"]}, "legend": {"orient": "none", "legendX": 79, "legendY": 190, "title": null, "padding": 0, "rowPadding": 0, "labelFontSize": 20, "labelAlign": "right", "labelOffset": -30, "labelBaseline": "middle", "symbolSize": 58, "symbolStrokeWidth": 1, "symbolFillColor": "transparent", "labelLimit": 0}},
    "shape": {"field": "s", "type": "nominal", "scale": {"domain": ["2010", "2012"], "range": ["circle", "triangle-up"]}, "legend": {"orient": "none", "legendX": 79, "legendY": 190, "title": null, "padding": 0, "rowPadding": 0, "labelFontSize": 20, "labelAlign": "right", "labelOffset": -30, "labelBaseline": "middle", "symbolSize": 58, "symbolStrokeWidth": 1, "symbolFillColor": "transparent", "labelLimit": 0}}
   }},
  {"mark": {"type": "point", "filled": true, "size": 2, "opacity": 1},
   "encoding": {
    "x": {"field": "x", "type": "quantitative", "scale": {"type": "log", "domain": [0.004, 300], "nice": false}, "axis": {"orient": "top", "values": [0.005,0.008,0.01,0.02,0.05,0.08,0.1,0.2,0.5,0.8,1,2,5,8,10,20,50,80,100,200], "labels": false, "domain": false, "grid": false, "title": null, "tickColor": "black", "tickWidth": 1.3, "tickSize": {"condition": {"test": "abs(log(datum.value)/LN10 - round(log(datum.value)/LN10)) < 0.01", "value": -9}, "value": -5}}},
    "y": {"field": "y", "type": "quantitative", "scale": {"type": "log", "domain": [0.00002, 30], "nice": false}, "axis": {"orient": "right", "values": [0.00005,0.00008,0.0001,0.0002,0.0005,0.0008,0.001,0.002,0.005,0.008,0.01,0.02,0.05,0.08,0.1,0.2,0.5,0.8,1,2,5,8,10,20], "labels": false, "domain": false, "grid": false, "title": null, "tickColor": "black", "tickWidth": 1.3, "tickSize": {"condition": {"test": "abs(log(datum.value)/LN10 - round(log(datum.value)/LN10)) < 0.01", "value": -9}, "value": -5}}},
    "fill": {"field": "s", "type": "nominal", "scale": {"domain": ["2012", "2010"], "range": ["#3050b0", "#ee2222"]}, "legend": null}
   }},
  {"data": {"values": [{"t": "Netherlands"}]},
   "mark": {"type": "text", "align": "left", "baseline": "middle", "fontSize": 25},
   "encoding": {
    "x": {"datum": 0.152, "type": "quantitative", "scale": {"type": "log", "domain": [0.004, 300], "nice": false}, "axis": {"orient": "bottom", "values": [0.01,0.1,1,10,100], "ticks": false, "domain": false, "grid": false, "labelExpr": "'10' + ['⁻⁴','⁻³','⁻²','⁻¹','⁰','¹','²'][round(log(datum.value)/LN10)+4]", "labelFontSize": 18, "labelColor": "black", "labelPadding": 20, "labelFlush": false, "labelOverlap": false, "labelBaseline": "top", "title": "v/v₀", "titleFontSize": 24, "titleFontWeight": "normal", "titleColor": "black", "titleX": 169, "titleY": 60, "titleBaseline": "middle", "titleAlign": "center"}},
    "y": {"datum": 0.0001, "type": "quantitative", "scale": {"type": "log", "domain": [0.00002, 30], "nice": false}, "axis": null},
    "text": {"field": "t"}
   }},
  {"data": {"values": [{"t": "F"}]},
   "mark": {"type": "text", "align": "center", "baseline": "middle", "fontSize": 26},
   "encoding": {
    "x": {"datum": 88, "type": "quantitative", "scale": {"type": "log", "domain": [0.004, 300], "nice": false}, "axis": null},
    "y": {"datum": 4.6, "type": "quantitative", "scale": {"type": "log", "domain": [0.00002, 30], "nice": false}, "axis": null},
    "text": {"field": "t"}
   }}
 ],
 "resolve": {"axis": {"x": "independent", "y": "independent"}}
}
]
}
